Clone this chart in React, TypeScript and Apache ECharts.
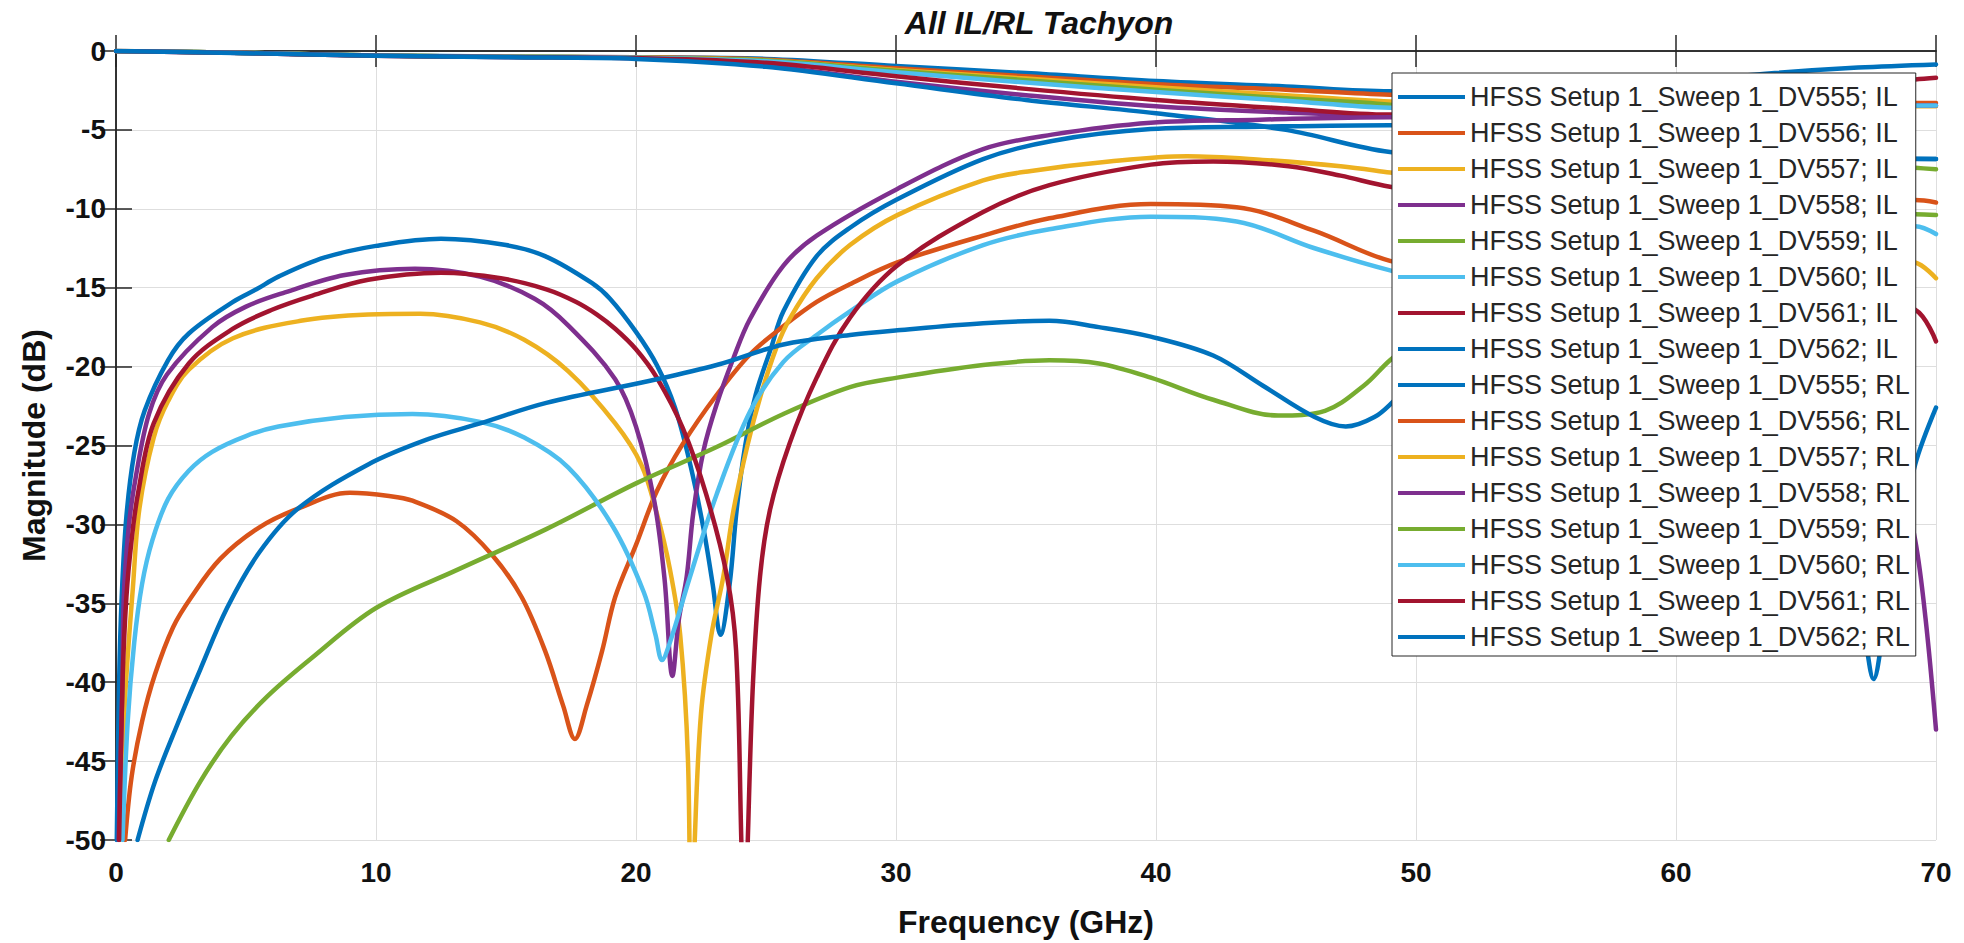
import { useEffect, useRef } from "react";
import * as echarts from "echarts";

// Frequency (GHz) / Magnitude (dB) pairs
const il555 = [[0,0],[5,-0.12],[10,-0.28],[15,-0.35],[20,-0.4],[25,-0.5],[30,-0.95],[35,-1.4],[40,-1.9],[45,-2.25],[49,-2.55],[55,-2.5],[60,-1.95],[63.8,-1.4],[67,-1.05],[70,-0.85]];
const il556 = [[0,0],[5,-0.12],[10,-0.28],[15,-0.36],[20,-0.4],[25,-0.55],[30,-1.1],[35,-1.6],[40,-2.1],[45,-2.45],[49,-2.77],[55,-3.0],[60,-3.2],[65,-3.3],[70,-3.3]];
const il557 = [[0,0],[5,-0.12],[10,-0.28],[15,-0.36],[20,-0.42],[25,-0.6],[30,-1.2],[35,-1.75],[40,-2.3],[45,-2.8],[49,-3.2],[55,-3.4],[60,-3.5],[70,-3.5]];
const il558 = [[0,0],[5,-0.13],[10,-0.3],[15,-0.38],[20,-0.45],[25,-0.95],[30,-1.95],[35,-2.8],[40,-3.5],[45,-3.9],[49,-4.1],[55,-4.0],[60,-3.8],[65,-3.5],[70,-3.45]];
const il559 = [[0,0],[5,-0.12],[10,-0.28],[15,-0.36],[20,-0.42],[25,-0.6],[30,-1.25],[35,-1.85],[40,-2.45],[45,-3.0],[49,-3.4],[55,-4.5],[60,-5.8],[65,-6.9],[69.2,-7.4],[70,-7.5]];
const il560 = [[0,0],[5,-0.12],[10,-0.28],[15,-0.37],[20,-0.43],[25,-0.65],[30,-1.35],[35,-2.0],[40,-2.6],[45,-3.15],[49,-3.6],[55,-3.7],[60,-3.6],[65,-3.5],[70,-3.45]];
const il561 = [[0,0],[5,-0.13],[10,-0.3],[15,-0.38],[20,-0.45],[25,-0.75],[30,-1.6],[35,-2.4],[40,-3.1],[45,-3.65],[49,-4.03],[55,-3.8],[60,-3.0],[65,-2.2],[69.2,-1.8],[70,-1.7]];
const il562 = [[0,0],[5,-0.14],[10,-0.3],[15,-0.4],[20,-0.5],[25,-1.0],[30,-2.05],[35,-3.1],[40,-3.95],[45,-5.0],[49,-6.4],[55,-7.0],[60,-7.2],[65,-7.0],[69.2,-6.85],[70,-6.84]];

const rl555 = [[0.03,-50],[0.12,-40],[0.22,-34.6],[0.4,-29.5],[0.7,-25.5],[1.1,-22.8],[2,-19.6],[2.8,-17.9],[4.5,-15.9],[5.4,-15.1],[6.25,-14.3],[8,-13.1],[10,-12.35],[12.5,-11.9],[15,-12.3],[16.5,-13],[18.3,-14.7],[19,-15.7],[20,-17.8],[20.8,-19.9],[21.5,-22.6],[22.1,-26.3],[22.6,-30.3],[22.95,-33.8],[23.25,-37],[23.6,-33.8],[23.87,-29.1],[24.2,-25],[24.6,-21.8],[25.2,-18.8],[25.67,-16.5],[26.95,-13],[28.23,-11.2],[30.05,-9.4],[33.35,-6.85],[36,-5.7],[39.8,-4.95],[44,-4.8],[49,-4.7],[55,-5.5],[60,-6.3],[65,-6.7],[70,-6.84]];
const rl556 = [[0.35,-50],[0.6,-46],[1.0,-42.5],[1.5,-39.5],[2.2,-36.5],[2.9,-34.6],[4,-32.2],[5.5,-30.2],[7,-29],[9,-28],[10.5,-28.2],[11.4,-28.5],[13.1,-29.8],[14.5,-32],[15.6,-34.6],[16.5,-38],[17.2,-41.5],[17.65,-43.6],[18.1,-41.5],[18.7,-38],[19.2,-34.6],[20,-31.3],[20.8,-27.9],[21.8,-24.9],[23.1,-21.8],[24.4,-19.2],[25.7,-17.4],[26.95,-15.9],[28.2,-14.8],[30.05,-13.4],[33.35,-11.7],[35.9,-10.6],[39.8,-9.7],[43.1,-9.9],[46.1,-11.4],[49,-13.3],[52,-14],[56,-13],[60,-11.5],[65,-10],[69.2,-9.45],[70,-9.6]];
const rl557 = [[0.15,-50],[0.35,-41],[0.65,-34],[0.9,-29],[1.45,-24.5],[2.0,-22.2],[2.8,-20.2],[4.5,-18.2],[7.1,-17.1],[9.7,-16.7],[11.7,-16.65],[14,-17.2],[15.7,-18.3],[17.4,-20.3],[19.2,-23.6],[20.2,-26.2],[20.8,-29.3],[21.3,-32.8],[21.7,-37],[22.0,-45],[22.12,-58],[22.26,-50],[22.5,-42],[22.9,-37],[23.36,-33.3],[23.75,-29.1],[24.3,-24.9],[24.8,-21.8],[25.4,-18.8],[25.9,-17],[26.95,-14.4],[28.23,-12.3],[30.05,-10.4],[33.35,-8.2],[35.2,-7.6],[38.2,-7.0],[41.2,-6.67],[44.1,-6.9],[47.1,-7.3],[49,-7.7],[55,-9],[60,-10.5],[65,-12.2],[69.2,-13.4],[70,-14.4]];
const rl558 = [[0.1,-50],[0.25,-40],[0.3,-34.6],[0.5,-30],[0.76,-27],[1.27,-23],[1.96,-20.5],[3.7,-17.5],[5,-16.2],[6.5,-15.3],[8.8,-14.2],[11.5,-13.8],[14,-14.3],[16.1,-15.7],[17.4,-17.4],[19.2,-20.8],[20,-23.8],[20.7,-28.5],[21.1,-33.5],[21.4,-39.6],[21.65,-36],[21.95,-33.3],[22.2,-29.3],[22.6,-25.3],[23.1,-22.4],[23.74,-19.5],[24.38,-17.0],[25.67,-13.6],[26.95,-11.7],[30.05,-8.74],[33.35,-6.22],[36,-5.3],[39.8,-4.54],[44,-4.35],[49,-4.2],[55,-5],[60,-7.5],[64,-12],[67,-19],[68.5,-26],[69.2,-31],[69.6,-36],[70,-43]];
const rl559 = [[2.03,-50],[3.24,-46.3],[4.44,-43.4],[5.82,-40.9],[7.54,-38.45],[10,-35.3],[13.1,-32.9],[16.55,-30.3],[20,-27.4],[23.1,-25.1],[25.67,-23],[28.23,-21.3],[30.05,-20.7],[33.35,-19.9],[35.9,-19.6],[37.8,-19.8],[39.8,-20.7],[42.2,-22.1],[44.7,-23.1],[46.5,-22.8],[48,-21.2],[49,-19.6],[52,-15.5],[56,-12],[60,-10.5],[65,-10.2],[69.2,-10.35],[70,-10.4]];
const rl560 = [[0.25,-50],[0.45,-42.5],[0.7,-37.5],[1.0,-33.8],[1.4,-31],[2,-28.4],[2.8,-26.6],[3.7,-25.4],[5,-24.4],[6.25,-23.8],[8.8,-23.2],[11.4,-23.0],[14,-23.5],[15.7,-24.5],[17.4,-26.4],[19.1,-30.1],[20.3,-34.3],[20.75,-37],[21.0,-38.6],[21.3,-37.5],[22.08,-33.3],[23.1,-28.1],[24.4,-22.8],[25.67,-19.7],[26.95,-18.0],[28.23,-16.5],[30.05,-14.6],[33.35,-12.3],[35.9,-11.3],[39.8,-10.5],[43.1,-10.8],[46.1,-12.5],[49,-13.9],[52,-15],[56,-14.5],[60,-13],[65,-11.5],[69.2,-11.1],[70,-11.6]];
const rl561 = [[0.12,-50],[0.25,-40],[0.4,-34.6],[0.6,-31],[0.85,-28],[1.45,-23.6],[2.8,-19.8],[4.5,-17.6],[6,-16.4],[7.56,-15.5],[9.7,-14.5],[12.5,-14.05],[14.8,-14.4],[16.55,-15.1],[17.7,-15.9],[18.5,-16.7],[19.2,-17.6],[20,-18.9],[20.8,-20.7],[21.8,-23.9],[22.7,-28.1],[23.5,-33.3],[23.85,-38],[24.05,-50],[24.17,-58],[24.3,-50],[24.5,-40],[24.77,-33.3],[25.15,-29.1],[25.9,-24.9],[26.95,-20.7],[28.23,-16.9],[30.05,-13.6],[33.35,-10.2],[35.9,-8.5],[39.8,-7.2],[42.2,-7.0],[45.1,-7.3],[47.1,-7.9],[49,-8.6],[55,-10],[60,-11.5],[65,-13.8],[69.2,-16.4],[70,-18.4]];
const rl562 = [[0.83,-50],[1.5,-46.3],[2.38,-42.6],[3.24,-39.2],[4.27,-35.3],[5.5,-31.8],[7,-29],[9.7,-26.2],[12,-24.6],[14,-23.6],[16.55,-22.3],[20.54,-20.9],[23.1,-19.9],[25.67,-18.6],[28.23,-18],[30.05,-17.7],[33.35,-17.25],[35.9,-17.1],[37.8,-17.5],[39.8,-18.1],[42.2,-19.3],[44.1,-21.2],[46.1,-23.2],[47.3,-23.8],[48.4,-23.2],[49.2,-22.1],[52,-18],[56,-16],[60,-18],[64,-25],[66.5,-32],[67.2,-36.5],[67.6,-39.8],[68,-36.5],[68.6,-31],[69.2,-26.2],[70,-22.6]];

const seriesNames = [
  "HFSS Setup 1_Sweep 1_DV555; IL",
  "HFSS Setup 1_Sweep 1_DV556; IL",
  "HFSS Setup 1_Sweep 1_DV557; IL",
  "HFSS Setup 1_Sweep 1_DV558; IL",
  "HFSS Setup 1_Sweep 1_DV559; IL",
  "HFSS Setup 1_Sweep 1_DV560; IL",
  "HFSS Setup 1_Sweep 1_DV561; IL",
  "HFSS Setup 1_Sweep 1_DV562; IL",
  "HFSS Setup 1_Sweep 1_DV555; RL",
  "HFSS Setup 1_Sweep 1_DV556; RL",
  "HFSS Setup 1_Sweep 1_DV557; RL",
  "HFSS Setup 1_Sweep 1_DV558; RL",
  "HFSS Setup 1_Sweep 1_DV559; RL",
  "HFSS Setup 1_Sweep 1_DV560; RL",
  "HFSS Setup 1_Sweep 1_DV561; RL",
  "HFSS Setup 1_Sweep 1_DV562; RL",
];
const seriesData = [il555, il556, il557, il558, il559, il560, il561, il562, rl555, rl556, rl557, rl558, rl559, rl560, rl561, rl562];

const xTicks = { min: 0, max: 70, interval: 10 };
const yTicks = { min: -50, max: 0, interval: 5 };

const palette = ["#0072BD", "#D95319", "#EDB120", "#7E2F8E", "#77AC30", "#4DBEEE", "#A2142F"];
const FONT = "'Liberation Sans', Arial, Helvetica, sans-serif";
const AXIS = "#262626";

export default function App() {
  const ref = useRef<HTMLDivElement>(null);
  useEffect(() => {
    const chart = echarts.init(ref.current!, null, { renderer: "svg" });
    const axisLine = { show: true, lineStyle: { color: AXIS, width: 1.5 } };
    const axisTick = { show: true, inside: true, length: 16, lineStyle: { color: AXIS, width: 1.5 } };
    const label = { fontSize: 28, fontWeight: "bold", color: "#111", fontFamily: FONT };
    const colorOf = (i: number) => palette[i % 8 === 7 ? 0 : i % 8];
    const option = {
      animation: false,
      backgroundColor: "#ffffff",
      title: {
        text: "All IL/RL Tachyon",
        left: 1034,
        top: 2,
        textAlign: "center",
        textStyle: { fontSize: 32, fontWeight: "bold", fontStyle: "italic", color: "#111", fontFamily: FONT },
      },
      grid: { left: 116, top: 51, right: 28, bottom: 98, containLabel: false },
      legend: {
        orient: "vertical",
        left: 1392,
        top: 73,
        icon: "rect",
        itemWidth: 67,
        itemHeight: 4,
        itemGap: 0,
        padding: [6, 6, 1, 6],
        backgroundColor: "#ffffff",
        borderColor: AXIS,
        borderWidth: 1,
        selectedMode: false,
        textStyle: { fontSize: 27, color: AXIS, fontFamily: FONT, lineHeight: 36 },
        data: seriesNames,
      },
      xAxis: [
        {
          type: "value",
          ...xTicks,
          position: "bottom",
          axisLine,
          axisTick,
          axisLabel: { ...label, margin: 18 },
          splitLine: { show: true, lineStyle: { color: "#dedede", width: 1 } },
          name: "Frequency (GHz)",
          nameLocation: "middle",
          nameGap: 66,
          nameTextStyle: { fontSize: 32, fontWeight: "bold", color: "#111", fontFamily: FONT },
        },
        {
          type: "value",
          ...xTicks,
          position: "top",
          axisLine,
          axisTick,
          axisLabel: { show: false },
          splitLine: { show: false },
        },
      ],
      yAxis: [
        {
          type: "value",
          ...yTicks,
          position: "left",
          axisLine,
          axisTick,
          axisLabel: { ...label, margin: 10 },
          splitLine: { show: true, lineStyle: { color: "#dedede", width: 1 } },
          name: "Magnitude (dB)",
          nameLocation: "middle",
          nameGap: 66,
          nameTextStyle: { fontSize: 32, fontWeight: "bold", color: "#111", fontFamily: FONT },
        },
        {
          type: "value",
          ...yTicks,
          position: "right",
          axisLine,
          axisTick,
          axisLabel: { show: false },
          splitLine: { show: false },
        },
      ],
      series: seriesData.map((d, i) => ({
        type: "line",
        name: seriesNames[i],
        data: d,
        xAxisIndex: 0,
        yAxisIndex: 0,
        symbol: "none",
        smooth: 0.35,
        clip: true,
        lineStyle: { width: 4.5, color: colorOf(i), cap: "round", join: "round" },
        itemStyle: { color: colorOf(i) },
        emphasis: { disabled: true },
      })),
    };
    chart.setOption(option as any);
    return () => chart.dispose();
  }, []);
  return (
    <div
      ref={ref}
      style={{ position: "fixed", left: 0, top: 0, width: 1964, height: 943, background: "#fff" }}
    />
  );
}
